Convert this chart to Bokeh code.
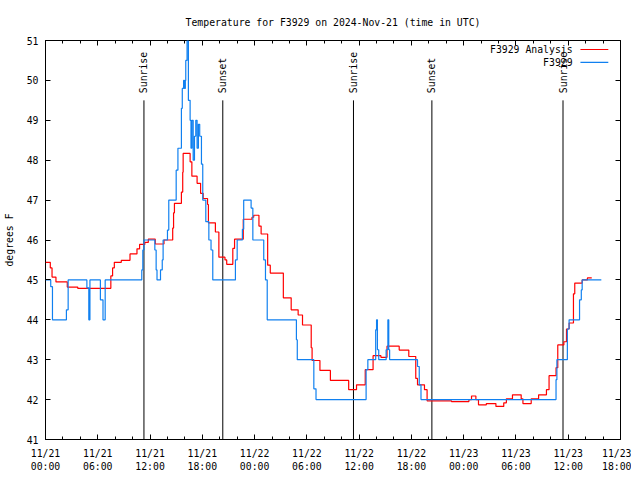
import pandas as pd
from math import pi
from bokeh.plotting import figure
from bokeh.models import (Range1d, FixedTicker, DatetimeTickFormatter, LinearAxis,
                          DatetimeAxis, Label)
from bokeh.embed import file_html
from bokeh.resources import INLINE
from bokeh.core.properties import value

START = pd.Timestamp("2024-11-21 00:00")

# F3929 Analysis (red) - step change points: hours since START, degrees F
analysis_hours = [0, 0.55, 0.75, 1.2, 2.5, 3.7, 7.5, 7.7, 7.9, 8.7, 9.7, 10.5, 10.8, 11.4, 11.8,
                  12.6, 13.6, 14.6, 14.7, 14.8, 15.6, 15.75, 15.8, 16.6, 16.8, 17.4, 17.8, 18.1,
                  18.6, 18.7, 19.5, 19.9, 20.6, 20.8, 21.5, 21.7, 22.7, 23.7, 23.9, 24.5, 24.75,
                  25.5, 25.8, 27.3, 28.2, 29.0, 29.5, 30.5, 30.6, 31.5, 32.7, 34.8, 35.7, 36.7,
                  37.6, 38.5, 39.2, 40.6, 41.7, 42.5, 42.7, 43.5, 43.8, 46.6, 48.6, 48.9, 49.4,
                  49.7, 50.6, 51.7, 52.6, 52.9, 53.6, 54.6, 54.8, 55.75, 56.6, 57.5, 57.8, 58.6,
                  58.8, 59.5, 59.8, 60.1, 60.6, 60.75, 61.6, 62.2, 62.7]
analysis_temp = [45.44, 45.3, 45.07, 44.95, 44.82, 44.79, 45.1, 45.3, 45.44, 45.49, 45.65, 45.78,
                 45.89, 45.94, 46.02, 45.9, 46.0, 46.3, 46.68, 46.92, 47.2, 47.7, 48.17, 47.96,
                 47.6, 47.42, 47.17, 47.04, 46.89, 46.43, 46.2, 45.57, 45.5, 45.39, 45.79, 46.02,
                 46.52, 46.57, 46.62, 46.35, 46.15, 45.37, 45.17, 44.55, 44.25, 44.12, 43.87,
                 43.3, 42.98, 42.73, 42.48, 42.25, 42.37, 42.75, 43.1, 43.06, 43.34, 43.24, 43.08,
                 42.53, 42.37, 42.25, 41.97, 41.95, 42.0, 42.09, 42.0, 41.87, 41.9, 41.83, 41.92,
                 42.02, 42.12, 42.02, 41.9, 42.02, 42.12, 42.25, 42.6, 42.8, 43.37, 43.45, 43.77,
                 43.92, 44.65, 44.92, 45.0, 45.05, 45.05]

# F3929 observations (blue) - step change points
obs_hours = [0, 0.6, 0.8, 2.4, 2.6, 4.75, 4.97, 5.1, 6.3, 6.6, 6.85, 11.05, 11.17, 11.3, 12.55,
             12.7, 12.8, 13.2, 13.4, 13.5, 14.0, 14.15, 15.0, 15.2, 15.6, 15.7, 15.85, 15.95,
             16.05, 16.1, 16.25, 16.4, 16.6, 16.7, 16.8, 16.95, 17.1, 17.25, 17.4, 17.55, 17.7,
             17.9, 18.05, 18.4, 18.75, 19.0, 19.2, 21.8, 22.0, 22.6, 22.75, 23.6, 23.8, 25.05,
             25.25, 25.45, 28.8, 28.9, 30.8, 31.05, 36.8, 37.0, 37.9, 38.0, 38.1, 38.25, 39.1,
             39.3, 39.4, 39.5, 42.7, 42.9, 43.1, 58.6, 58.7, 59.9, 60.1, 61.3, 61.5, 61.6, 63.8]
obs_temp = [45.0, 44.83, 44.0, 44.25, 45.0, 44.8, 44.0, 45.0, 44.5, 44.0, 45.0, 45.25, 45.75,
            46.0, 45.75, 45.25, 45.0, 45.25, 45.5, 46.0, 46.25, 47.0, 47.75, 48.3, 49.3, 49.8,
            50.0, 49.8, 50.0, 50.5, 51.0, 49.5, 49.0, 48.3, 49.0, 48.0, 48.6, 49.0, 48.3, 48.9,
            48.6, 47.9, 47.0, 46.46, 46.0, 45.75, 45.0, 45.5, 46.0, 46.27, 47.0, 46.8, 46.0,
            45.5, 45.0, 44.0, 43.5, 43.0, 42.27, 42.0, 42.75, 43.0, 43.75, 44.0, 43.25, 43.0,
            43.25, 44.0, 43.25, 43.0, 42.83, 42.37, 42.0, 42.5, 43.0, 43.77, 44.0, 44.5, 44.75,
            45.0, 45.0]

# sunrise / sunset events
sun_labels = ["Sunrise", "Sunset", "Sunrise", "Sunset", "Sunrise"]
sun_hours = [11.3, 20.35, 35.35, 44.35, 59.4]

tick_hours = list(range(0, 67, 6))
minor_hours = list(range(0, 67, 2))
y_ticks = list(range(41, 52))

FONT = "DejaVu Sans Mono"
FS = "9.8px"
RED = "#ff0000"
BLUE = "#1080f0"


def ts(h):
    return START + pd.to_timedelta(h, unit="h")


def ms(h):
    return ts(h).value // 10**6


x_end = 66
p = figure(frame_width=575, frame_height=399, output_backend="svg", toolbar_location=None,
           x_axis_type="datetime", x_range=Range1d(ts(0), ts(x_end)), y_range=Range1d(41, 51),
           min_border_left=39, min_border_right=11, min_border_top=40, min_border_bottom=28,
           title="Temperature for F3929 on 2024-Nov-21 (time in UTC)")
p.title.align = "center"
p.title.text_font = FONT
p.title.text_font_size = FS
p.title.text_font_style = "normal"
p.title.text_color = "black"
p.title.standoff = 26
p.grid.visible = False
p.outline_line_color = "black"
p.outline_line_width = 1
p.background_fill_color = "white"
p.border_fill_color = "white"

xticker = FixedTicker(ticks=[ms(h) for h in tick_hours], minor_ticks=[ms(h) for h in minor_hours])
fmt_str = "%m/%d\n%H:%M"
xfmt = DatetimeTickFormatter(microseconds=fmt_str, milliseconds=fmt_str, seconds=fmt_str,
                             minsec=fmt_str, minutes=fmt_str, hourmin=fmt_str, hours=fmt_str,
                             days=fmt_str, months=fmt_str, years=fmt_str)
yticker = FixedTicker(ticks=y_ticks, minor_ticks=[])


def style_axis(ax, labels=True):
    ax.axis_line_color = None
    ax.major_tick_in = 5
    ax.major_tick_out = 0
    ax.minor_tick_in = 3
    ax.minor_tick_out = 0
    ax.major_tick_line_color = "black"
    ax.minor_tick_line_color = "black"
    ax.major_label_text_font = FONT
    ax.major_label_text_font_size = FS
    ax.major_label_text_color = "black"
    if not labels:
        ax.major_label_text_font_size = "0px"
        ax.major_label_text_color = None


xa = p.xaxis[0]
xa.ticker = xticker
xa.formatter = xfmt
style_axis(xa)
xa.major_label_standoff = 8

ya = p.yaxis[0]
ya.ticker = yticker
style_axis(ya)
ya.major_label_standoff = 7
ya.axis_label = "degrees F"
ya.axis_label_text_font = FONT
ya.axis_label_text_font_size = FS
ya.axis_label_text_font_style = "normal"
ya.axis_label_text_color = "black"
ya.axis_label_standoff = 9

top = DatetimeAxis(ticker=xticker, formatter=xfmt)
style_axis(top, labels=False)
p.add_layout(top, "above")
right = LinearAxis(ticker=yticker)
style_axis(right, labels=False)
p.add_layout(right, "right")

# sunrise / sunset lines and labels
sun_x = [ts(h) for h in sun_hours]
p.segment(x0=sun_x, x1=sun_x, y0=[41] * len(sun_x), y1=[49.5] * len(sun_x),
          line_color="black", line_width=1)
p.text(x=sun_x, y=[49.68] * len(sun_x), text=sun_labels, angle=pi / 2,
       text_align="left", text_baseline="middle", text_font=value(FONT),
       text_font_size=value(FS), text_color="black")

# series
p.step(x=[ts(h) for h in analysis_hours], y=analysis_temp, mode="after",
       line_color=RED, line_width=1.2)
p.step(x=[ts(h) for h in obs_hours], y=obs_temp, mode="after",
       line_color=BLUE, line_width=1.2)

# gnuplot-style key (text right-aligned, sample line to the right)
key_names = ["F3929 Analysis", "F3929"]
key_colors = [RED, BLUE]
for i, (name, col) in enumerate(zip(key_names, key_colors)):
    ky = 50.775 - i * 0.325
    p.add_layout(Label(x=ts(60.5), y=ky, text=name, text_align="right",
                       text_baseline="middle", text_font=FONT, text_font_size=FS,
                       text_color="black"))
    p.segment(x0=[ts(61.4)], x1=[ts(64.6)], y0=[ky], y1=[ky], line_color=col, line_width=1.2)

open("out.html", "w").write(file_html(p, INLINE))
